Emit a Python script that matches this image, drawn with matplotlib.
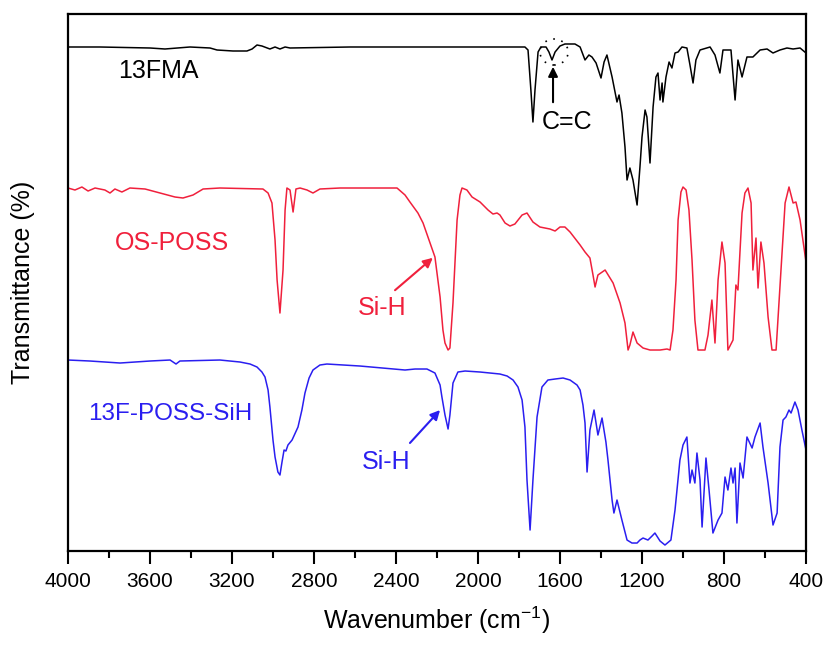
import numpy as np
import matplotlib.pyplot as plt
from matplotlib.patches import Ellipse
from matplotlib.ticker import MultipleLocator

plt.rcParams['font.family'] = ['Liberation Sans', 'DejaVu Sans']

# Спектры ИК, пропускание в отн. ед. (со сдвигом по вертикали)
fma_wn = [4000, 3844, 3600, 3527, 3405, 3307, 3273, 3195, 3127, 3102, 3078, 3054, 3015, 2990,
          2966, 2941, 2917, 2624, 2137, 1771, 1756, 1742, 1732, 1722, 1707, 1693, 1668, 1654,
          1639, 1624, 1600, 1576, 1527, 1502, 1478, 1459, 1444, 1424, 1400, 1385, 1371, 1346,
          1322, 1312, 1298, 1283, 1273, 1259, 1244, 1224, 1210, 1200, 1185, 1176, 1161, 1146,
          1132, 1122, 1112, 1102, 1098, 1083, 1068, 1054, 1039, 1024, 1005, 981, 966, 951,
          937, 917, 868, 844, 820, 805, 766, 746, 732, 712, 688, 659, 624, 590, 561, 527,
          493, 463, 429, 400]
fma_t = [504, 504, 503, 502, 504, 503, 501, 500, 500, 502, 506, 505, 502, 504,
         502, 504, 503, 504, 504, 504, 501, 461, 429, 461, 499, 504, 504, 499,
         491, 499, 505, 507, 507, 504, 491, 496, 494, 488, 473, 489, 496, 474,
         449, 456, 438, 404, 371, 383, 371, 346, 384, 414, 441, 434, 388, 444,
         474, 478, 451, 468, 449, 474, 489, 483, 498, 499, 504, 503, 486, 468,
         491, 501, 504, 496, 478, 501, 501, 451, 491, 474, 494, 494, 501, 502, 498, 501,
         503, 502, 503, 498]

os_wn = [4000, 3966, 3932, 3902, 3868, 3820, 3795, 3771, 3737, 3698, 3624, 3551, 3478, 3439,
         3390, 3341, 3259, 3049, 3024, 3005, 2990, 2980, 2966, 2951, 2941, 2932, 2917, 2902,
         2888, 2868, 2834, 2805, 2771, 2673, 2395, 2356, 2332, 2293, 2268, 2234, 2210, 2185,
         2171, 2161, 2146, 2137, 2122, 2102, 2088, 2078, 2054, 2029, 1990, 1951, 1927, 1907,
         1893, 1868, 1844, 1820, 1785, 1761, 1732, 1698, 1649, 1624, 1600, 1576, 1551, 1502,
         1478, 1454, 1439, 1429, 1415, 1380, 1341, 1307, 1283, 1268, 1259, 1244, 1224, 1195,
         1161, 1112, 1078, 1063, 1049, 1034, 1024, 1010, 1000, 985, 971, 956, 942, 927,
         893, 878, 859, 844, 829, 810, 795, 781, 756, 742, 732, 712, 698, 683, 668, 659,
         644, 634, 620, 605, 585, 566, 546, 527, 502, 483, 463, 449, 429, 400]
os_t = [363, 361, 364, 360, 363, 361, 358, 362, 359, 363, 362, 358, 354, 353,
        356, 362, 363, 362, 358, 348, 311, 271, 238, 281, 341, 363, 361, 339,
        362, 363, 361, 358, 362, 363, 363, 356, 349, 338, 328, 308, 294, 254,
        221, 208, 201, 203, 248, 331, 356, 363, 361, 354, 349, 341, 337, 338,
        336, 328, 325, 327, 336, 338, 329, 324, 322, 320, 324, 324, 319, 306,
        299, 293, 276, 264, 276, 281, 268, 248, 228, 201, 206, 219, 208, 203,
        201, 201, 202, 201, 221, 271, 331, 359, 364, 361, 341, 291, 231, 201,
        201, 216, 251, 208, 271, 309, 288, 201, 211, 266, 261, 338, 358, 363, 348, 281,
        313, 263, 309, 288, 234, 201, 201, 264, 348, 364, 348, 349, 331, 289]

sih_wn = [4000, 3893, 3746, 3600, 3502, 3473, 3454, 3259, 3161, 3112, 3078, 3054, 3039, 3024,
          3015, 3000, 2990, 2976, 2966, 2956, 2946, 2937, 2927, 2907, 2878, 2859, 2844, 2824,
          2805, 2771, 2737, 2576, 2415, 2356, 2307, 2249, 2210, 2185, 2176, 2161, 2146, 2137,
          2122, 2098, 2063, 1990, 1941, 1893, 1858, 1829, 1805, 1785, 1771, 1761, 1746, 1732,
          1712, 1688, 1659, 1624, 1585, 1551, 1517, 1502, 1488, 1478, 1468, 1454, 1434, 1415,
          1395, 1376, 1366, 1346, 1337, 1322, 1298, 1273, 1249, 1224, 1210, 1195, 1171, 1151,
          1137, 1112, 1088, 1059, 1039, 1015, 1000, 981, 966, 956, 942, 932, 917, 907,
          888, 873, 854, 829, 810, 795, 781, 766, 756, 746, 737, 722, 707, 688, 663, 649,
          624, 610, 585, 561, 541, 527, 512, 498, 483, 473, 454, 439, 420, 400]
sih_t = [191, 190, 188, 190, 191, 187, 190, 191, 189, 187, 184, 179, 174, 161,
         144, 111, 94, 79, 76, 89, 101, 100, 106, 111, 124, 141, 158, 173,
         181, 186, 187, 185, 182, 181, 182, 182, 178, 166, 154, 136, 122, 136,
         168, 179, 180, 179, 178, 177, 175, 171, 164, 151, 124, 71, 21, 71,
         134, 164, 171, 172, 173, 171, 166, 161, 146, 128, 79, 121, 141, 116,
         133, 109, 91, 51, 38, 51, 31, 11, 8, 8, 11, 13, 11, 15,
         18, 10, 6, 11, 41, 91, 106, 114, 68, 81, 68, 98, 71, 24,
         93, 61, 18, 31, 38, 74, 61, 83, 68, 83, 28, 88, 73, 114, 103, 114,
         128, 104, 68, 26, 38, 104, 131, 134, 141, 138, 149, 141, 121, 101]

red = '#f0203c'
blue = '#2a1ef0'

fig, ax = plt.subplots(figsize=(8.26, 6.45), dpi=100)
fig.subplots_adjust(left=0.0823, right=0.9758, bottom=0.1457, top=0.9783)

ax.plot(fma_wn, fma_t, color='black', lw=1.1)
ax.plot(os_wn, os_t, color=red, lw=1.1)
ax.plot(sih_wn, sih_t, color=blue, lw=1.1)

ax.set_xlim(4000, 400)
ax.set_ylim(0, 537)
ax.xaxis.set_major_locator(MultipleLocator(400))
ax.xaxis.set_minor_locator(MultipleLocator(200))
ax.tick_params(axis='x', which='major', direction='out', length=9, width=1.5, labelsize=15, pad=6)
ax.tick_params(axis='x', which='minor', direction='out', length=5, width=1.5)
ax.set_yticks([])
for s in ax.spines.values():
    s.set_linewidth(1.6)

ax.set_xlabel('Wavenumber (cm$^{\\mathregular{-1}}$)', fontsize=18, labelpad=10)
ax.set_ylabel('Transmittance (%)', fontsize=18, labelpad=24)

# подписи
ax.text(3756, 480, '13FMA', fontsize=18, va='center', ha='left')
ax.text(1566, 429, 'C=C', fontsize=18, va='center', ha='center')
ax.annotate('', xy=(1634, 487), xytext=(1634, 446),
            arrowprops=dict(arrowstyle='-|>', color='black', lw=1.5, mutation_scale=14))
ax.add_patch(Ellipse((1629, 499), 137, 26, fill=False, ec='black', lw=1.2, ls=(0, (1, 4))))

ax.text(3771, 308, 'OS-POSS', fontsize=18, color=red, va='center', ha='left')
ax.text(2468, 243, 'Si-H', fontsize=18, color=red, va='center', ha='center')
ax.annotate('', xy=(2210, 295), xytext=(2415, 259),
            arrowprops=dict(arrowstyle='-|>', color=red, lw=1.5, mutation_scale=14))

ax.text(3902, 137, '13F-POSS-SiH', fontsize=17.5, color=blue, va='center', ha='left')
ax.text(2449, 89, 'Si-H', fontsize=18, color=blue, va='center', ha='center')
ax.annotate('', xy=(2176, 143), xytext=(2341, 106),
            arrowprops=dict(arrowstyle='-|>', color=blue, lw=1.5, mutation_scale=14))

plt.savefig('out.png', dpi=100)
